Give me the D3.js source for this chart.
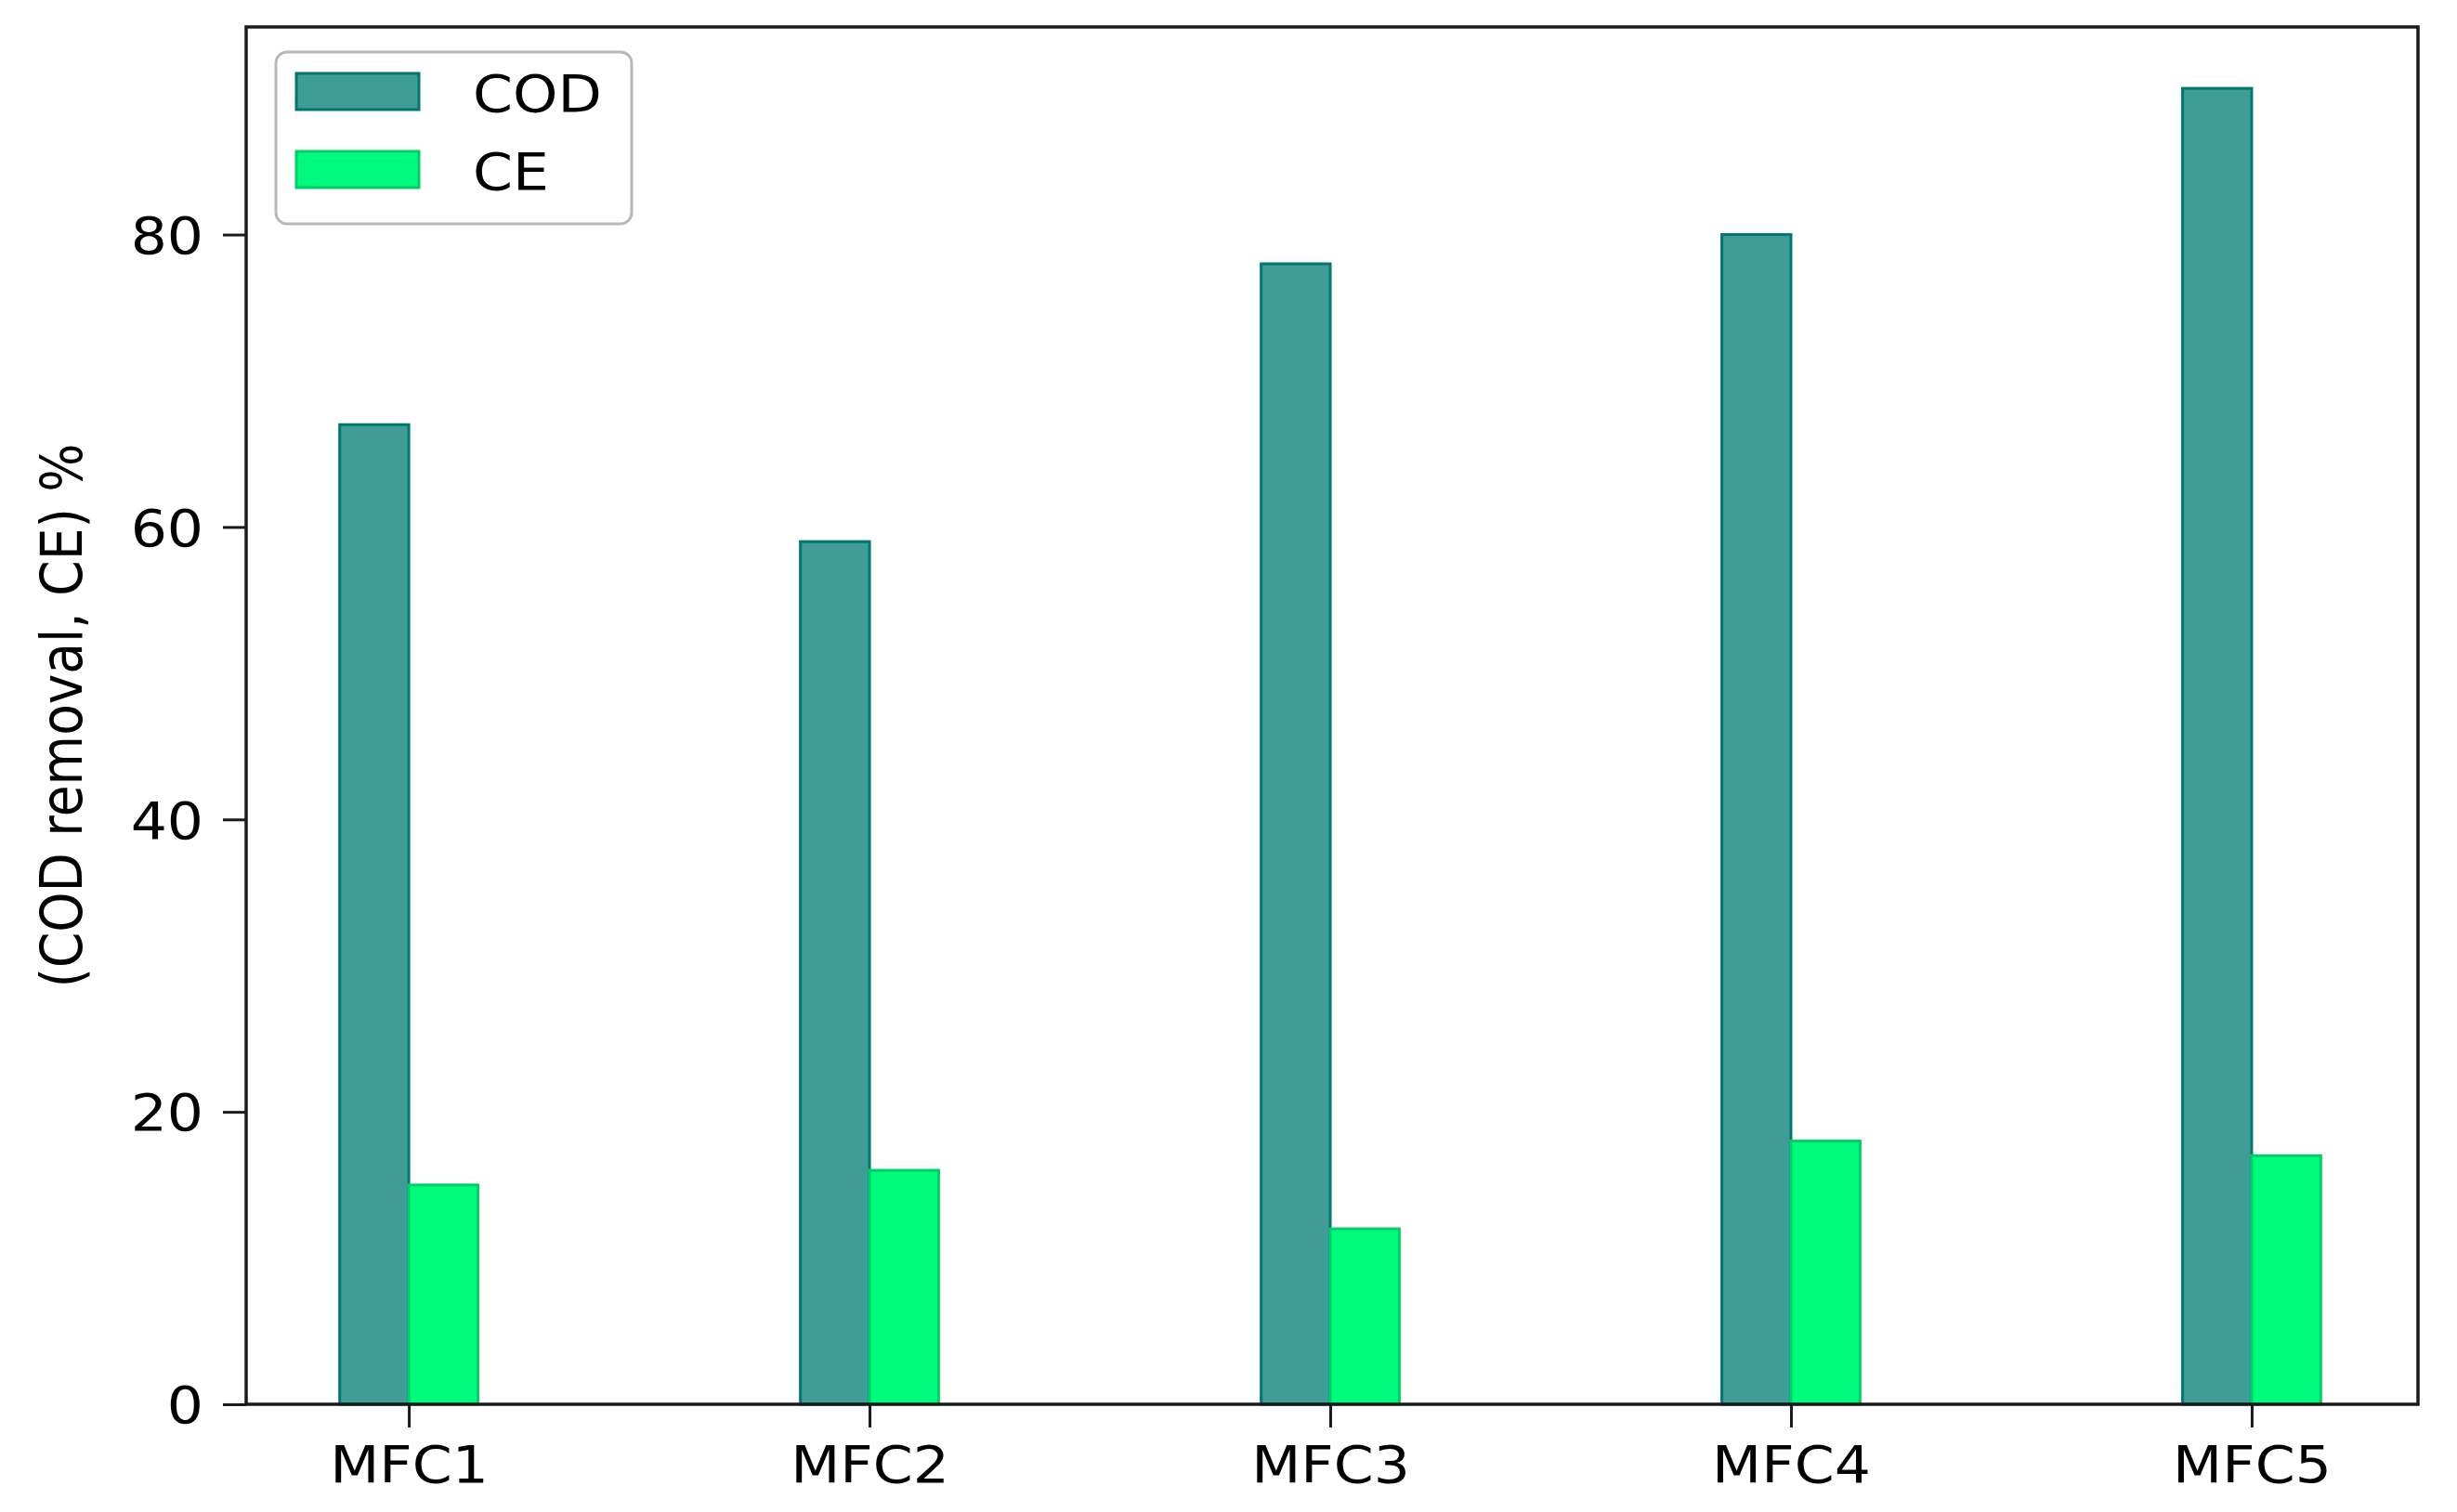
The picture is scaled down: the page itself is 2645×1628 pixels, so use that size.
<!DOCTYPE html>
<html>
<head>
<meta charset="utf-8">
<script src="https://cdn.jsdelivr.net/npm/d3@7"></script>
<style>
  html, body { margin: 0; padding: 0; background: #ffffff; }
  svg { display: block; }
  text { font-family: "DejaVu Sans", sans-serif; fill: #000; }
</style>
</head>
<body>
<svg id="chart" width="2645" height="1628"></svg>
<script>
const categories = ["MFC1", "MFC2", "MFC3", "MFC4", "MFC5"];
const codValues = [67, 59, 78, 80, 90];
const ceValues = [15, 16, 12, 18, 17];
const yTicks = [0, 20, 40, 60, 80];
const seriesNames = ["COD", "CE"];

const W = 2645, H = 1628;
const plot = { left: 265, right: 2603, top: 29, bottom: 1512 };
const sx = 1.12; // horizontal stretch of the original's text
const fontSize = 55;
const barW = 0.15;

const svg = d3.select("#chart");

const x = d3.scaleLinear().domain([-0.353, categories.length - 1 + 0.361]).range([plot.left, plot.right]);
const y = d3.scaleLinear().domain([0, 94.2]).range([plot.bottom, plot.top]);

const colors = {
  COD: { fill: "#409c96", stroke: "#00786f" },
  CE:  { fill: "#00fb7c", stroke: "#00cf68" }
};

// bars
const bars = svg.append("g");
bars.selectAll("rect.cod").data(codValues).join("rect")
  .attr("class", "cod")
  .attr("x", (d, i) => x(i - barW))
  .attr("width", (d, i) => x(i) - x(i - barW))
  .attr("y", d => y(d))
  .attr("height", d => y(0) - y(d))
  .attr("fill", colors.COD.fill)
  .attr("stroke", colors.COD.stroke)
  .attr("stroke-width", 3);
bars.selectAll("rect.ce").data(ceValues).join("rect")
  .attr("class", "ce")
  .attr("x", (d, i) => x(i))
  .attr("width", (d, i) => x(i + barW) - x(i))
  .attr("y", d => y(d))
  .attr("height", d => y(0) - y(d))
  .attr("fill", colors.CE.fill)
  .attr("stroke", colors.CE.stroke)
  .attr("stroke-width", 3);

// frame
svg.append("rect")
  .attr("x", plot.left).attr("y", plot.top)
  .attr("width", plot.right - plot.left).attr("height", plot.bottom - plot.top)
  .attr("fill", "none").attr("stroke", "#1a1a1a").attr("stroke-width", 3.5);

// y axis
const yAxis = svg.append("g")
  .attr("transform", `translate(${plot.left},0)`)
  .call(d3.axisLeft(y).tickValues(yTicks).tickSize(25).tickPadding(21).tickFormat(d3.format("d")));
yAxis.select(".domain").remove();
yAxis.selectAll(".tick line").attr("stroke", "#1a1a1a").attr("stroke-width", 3);
yAxis.selectAll(".tick text")
  .attr("font-size", fontSize)
  .attr("font-family", "DejaVu Sans")
  .attr("x", -46 / sx)
  .attr("dy", "0.36em")
  .attr("transform", `scale(${sx},1)`);

// x axis
const xAxis = svg.append("g")
  .attr("transform", `translate(0,${plot.bottom})`)
  .call(d3.axisBottom(x).tickValues(d3.range(categories.length)).tickSize(25).tickPadding(20)
    .tickFormat(i => categories[i]));
xAxis.select(".domain").remove();
xAxis.selectAll(".tick line").attr("stroke", "#1a1a1a").attr("stroke-width", 3);
xAxis.selectAll(".tick text")
  .attr("font-size", fontSize)
  .attr("font-family", "DejaVu Sans")
  .attr("transform", `scale(${sx},1)`);

// y label
svg.append("text")
  .attr("transform", `translate(${88},${(plot.top + plot.bottom) / 2}) rotate(-90) scale(1,${sx})`)
  .attr("text-anchor", "middle")
  .attr("font-size", fontSize)
  .text("(COD removal, CE) %");

// legend
const lg = svg.append("g");
lg.append("rect")
  .attr("x", 297).attr("y", 56).attr("width", 383).attr("height", 185)
  .attr("rx", 12).attr("ry", 12)
  .attr("fill", "#ffffff").attr("stroke", "#b8b8b8").attr("stroke-width", 3);
seriesNames.forEach((name, i) => {
  const yy = 79 + i * 84;
  lg.append("rect")
    .attr("x", 319).attr("y", yy).attr("width", 132).attr("height", 39)
    .attr("fill", colors[name].fill).attr("stroke", colors[name].stroke).attr("stroke-width", 3);
  lg.append("text")
    .attr("transform", `translate(509,${yy + 41}) scale(${sx},1)`)
    .attr("font-size", fontSize)
    .text(name);
});
</script>
</body>
</html>
